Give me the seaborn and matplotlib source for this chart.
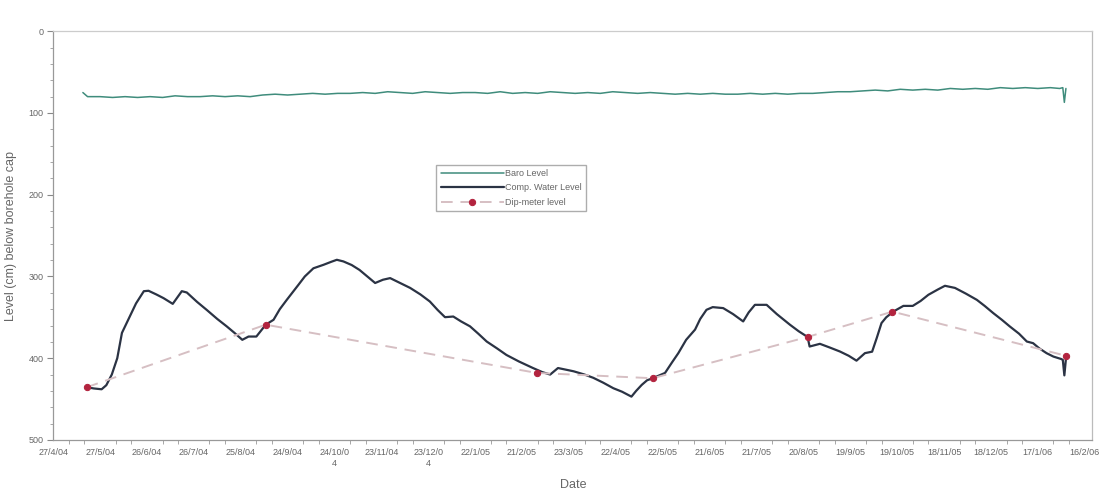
import pandas as pd
import seaborn as sns
import matplotlib.pyplot as plt
from matplotlib.ticker import MultipleLocator

# Dates are stored as days after 27/4/04 (first axis tick)
start = pd.Timestamp('2004-04-27')

baro_days = [19, 22, 30, 38, 46, 54, 62, 70, 78, 86, 94, 102, 110, 118, 126, 134,
             142, 150, 158, 166, 174, 182, 190, 198, 206, 214, 222, 230, 238, 246,
             254, 262, 270, 278, 286, 294, 302, 310, 318, 326, 334, 342, 350, 358,
             366, 374, 382, 390, 398, 406, 414, 422, 430, 438, 446, 454, 462, 470,
             478, 486, 494, 502, 510, 518, 526, 534, 542, 550, 558, 566, 574, 582,
             590, 598, 606, 614, 622, 630, 638, 644, 646, 647, 648]
baro_level = [75, 80, 80, 81, 80, 81, 80, 81, 79, 80, 80, 79, 80, 79, 80, 78,
              77, 78, 77, 76, 77, 76, 76, 75, 76, 74, 75, 76, 74, 75,
              76, 75, 75, 76, 74, 76, 75, 76, 74, 75, 76, 75, 76, 74,
              75, 76, 75, 76, 77, 76, 77, 76, 77, 77, 76, 77, 76, 77,
              76, 76, 75, 74, 74, 73, 72, 73, 71, 72, 71, 72, 70, 71,
              70, 71, 69, 70, 69, 70, 69, 70, 69, 87, 70]

water_days = [21.5, 26, 31, 34, 37.5, 41, 44, 49, 53, 58, 61, 66, 70.6, 76.5, 82.3,
              85.5, 92, 98.3, 105, 111, 116, 121, 125, 130, 136, 141, 145, 149.5,
              157, 161, 166.5, 173, 178, 181.5, 185.7, 191, 196, 201, 206, 211,
              215.6, 222, 228.4, 235, 241, 246, 250.7, 256, 261, 266.7, 272, 277.4,
              284, 290, 298, 307, 313, 318, 323, 328, 333, 340, 345.6, 352, 358.4,
              364, 370, 373, 376.6, 380, 383.6, 391.5, 396, 400, 405, 410.7, 414,
              418, 422, 428.7, 435, 441.5, 445, 449, 456.5, 463, 471.4, 477, 482.7,
              484, 490.6, 497, 503.4, 509, 514, 519.4, 524, 527, 530, 533, 537.5,
              544, 550, 555, 560, 566, 570.6, 577, 584, 591, 596, 601.5, 607, 612,
              618, 623, 627, 631, 635.6, 640, 645, 646, 647, 648]
water_level = [435.5, 437, 438, 433, 420, 400, 369, 349, 333, 318, 317.5, 322, 326.5,
               333.5, 318, 319.6, 331, 341, 352, 361, 369, 377.5, 373.5, 373.5, 359,
               353, 340, 328.5, 310, 300, 290, 285.7, 282, 279.6, 281.6, 286, 292,
               300, 308, 304, 302, 308, 314, 322, 330.6, 341, 349.8, 349, 355, 361,
               370, 379.6, 388, 396, 404, 412, 417, 420, 412, 414, 416, 420, 424,
               430, 436.7, 441, 447, 440, 432.6, 427, 424.5, 418, 405, 393.8, 377.5,
               365, 352, 340.8, 337.5, 338.7, 346, 355, 344, 334.7, 334.7, 346, 359,
               367, 374, 385.7, 382.4, 387, 391.8, 397, 403, 393.8, 392, 375, 357,
               350, 343, 336, 336, 330, 322.4, 316, 311.4, 314, 321, 328.6, 336,
               344.8, 353, 361, 370, 379.6, 381.6, 388, 393.8, 398, 401, 402, 421, 401]

dip_days = [21.5, 136, 309.4, 383.6, 482.7, 537, 648]
dip_level = [435.5, 359, 418, 424.5, 374, 343, 397]

tick_labels = ['27/4/04', '27/5/04', '26/6/04', '26/7/04', '25/8/04', '24/9/04',
               '24/10/0\n4', '23/11/04', '23/12/0\n4', '22/1/05', '21/2/05', '23/3/05',
               '22/4/05', '22/5/05', '21/6/05', '21/7/05', '20/8/05', '19/9/05',
               '19/10/05', '18/11/05', '18/12/05', '17/1/06', '16/2/06']

baro = pd.DataFrame({'date': start + pd.to_timedelta(baro_days, unit='D'), 'level': baro_level})
water = pd.DataFrame({'date': start + pd.to_timedelta(water_days, unit='D'), 'level': water_level})
dip = pd.DataFrame({'date': start + pd.to_timedelta(dip_days, unit='D'), 'level': dip_level})

sns.set_style('white')
plt.rcParams['font.family'] = ['Liberation Sans', 'DejaVu Sans']

fig = plt.figure(figsize=(11.08, 4.96), dpi=100)
ax = fig.add_axes([0.048, 0.113, 0.938, 0.824])

sns.lineplot(data=baro, x='date', y='level', ax=ax, color='#3f8c7c', lw=1.1,
             label='Baro Level', sort=False)
sns.lineplot(data=water, x='date', y='level', ax=ax, color='#2b3344', lw=1.6,
             label='Comp. Water Level', sort=False)
sns.lineplot(data=dip, x='date', y='level', ax=ax, color='#d6bfc3', lw=1.4,
             linestyle=(0, (6, 4)), marker='o', markersize=4.5,
             markerfacecolor='#b3243f', markeredgecolor='#b3243f',
             label='Dip-meter level', sort=False)

ax.set_ylim(500, 0)
ax.yaxis.set_major_locator(MultipleLocator(100))
ax.yaxis.set_minor_locator(MultipleLocator(20))

ticks = [start + pd.Timedelta(days=30 * i) for i in range(len(tick_labels))]
ax.set_xlim(start, start + pd.Timedelta(days=665))
ax.set_xticks(ticks)
ax.set_xticklabels(tick_labels)
ax.set_xticks([start + pd.Timedelta(days=10 * i) for i in range(67)], minor=True)

ax.tick_params(axis='both', which='major', direction='out', length=4, width=0.8,
               color='#888888', labelsize=6.5, labelcolor='#666666', pad=3)
ax.tick_params(axis='both', which='minor', direction='out', length=2.5, width=0.6,
               color='#999999')
ax.tick_params(axis='x', which='major', length=0, pad=6)
ax.tick_params(axis='x', which='minor', length=3)
ax.tick_params(bottom=True, left=True, which='both')

for side in ['left', 'bottom', 'right', 'top']:
    ax.spines[side].set_color('#999999')
    ax.spines[side].set_linewidth(0.9)
ax.spines['top'].set_color('#cccccc')
ax.spines['right'].set_color('#bbbbbb')

ax.set_xlabel('Date', fontsize=9, color='#666666', labelpad=8)
ax.set_ylabel('Level (cm) below borehole cap', fontsize=9, color='#666666', labelpad=8)

leg = ax.legend(loc='upper left', bbox_to_anchor=(0.364, 0.685), fontsize=6.5,
                frameon=True, fancybox=False, edgecolor='#999999', handlelength=7,
                handletextpad=0.1, borderpad=0.5, labelspacing=0.6)
for t in leg.get_texts():
    t.set_color('#666666')

fig.savefig('out.png', dpi=100, facecolor='white')
